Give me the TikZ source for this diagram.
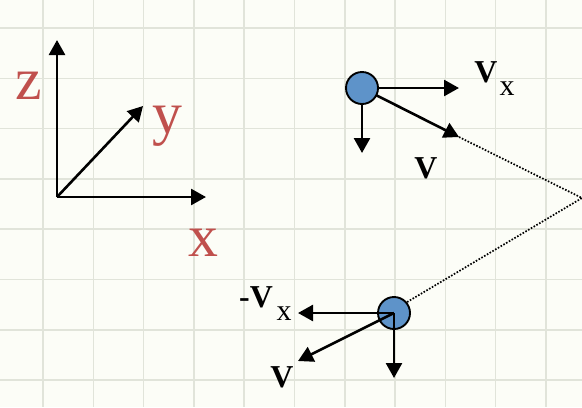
\documentclass[tikz,border=0pt]{standalone}
\usepackage{fontspec}
\setmainfont{Liberation Serif}
\usetikzlibrary{arrows.meta}
\definecolor{bg}{HTML}{FCFDF7}
\definecolor{gridc}{HTML}{E1E4DA}
\definecolor{axred}{HTML}{C0504D}
\definecolor{ballblue}{HTML}{5E93C9}
\tikzset{
  vec/.style={line width=2.6bp,-{Triangle[length=15bp,width=16bp]}},
  ball/.style={circle,draw=black,line width=1.9bp,fill=ballblue,minimum size=32bp,inner sep=0pt},
  axlab/.style={text=axred,font=\fontsize{60}{64}\selectfont,inner sep=0pt,anchor=base},
  vlab/.style={font=\fontsize{32}{34}\selectfont\bfseries,inner sep=0pt,anchor=base},
  sublab/.style={font=\fontsize{30}{32}\selectfont,inner sep=0pt,anchor=base},
  path/.style={line width=1.7bp,dash pattern=on 1.6bp off 1.6bp}
}
\begin{document}
\begin{tikzpicture}[x=1bp,y=-1bp]
\useasboundingbox (0,0) rectangle (582,407);
\fill[bg] (0,0) rectangle (582,407);
\foreach \i in {0,...,10} {\draw[gridc,line width=1.5bp] ({43+50.3*\i},0) -- ({43+50.3*\i},407);}
\foreach \j in {0,...,7} {\draw[gridc,line width=1.5bp] (0,{28+50.3*\j}) -- (582,{28+50.3*\j});}
% axes
\coordinate (O) at (57,197);
\coordinate (Z) at (57,40);
\coordinate (X) at (206,197);
\coordinate (Y) at (143,106);
\draw[vec] (O) -- (Z);
\draw[vec] (O) -- (X);
\draw[vec] (O) -- (Y);
\node[axlab] (zl) at (29,99) {z};
\node[axlab] (yl) at (167,133) {y};
\node[axlab] (xl) at (203,256) {x};
% top ball
\coordinate (A) at (362,88);
\coordinate (Ax) at (459,88);
\coordinate (Ad) at (362,153);
\coordinate (Av) at (459,137);
\coordinate (R) at (582,198);
\draw[vec] (A) -- (Ax);
\draw[vec] (A) -- (Ad);
\draw[vec] (A) -- (Av);
\node[ball] (ba) at (A) {};
% bottom ball
\coordinate (B) at (394,313);
\coordinate (Bx) at (298,313);
\coordinate (Bd) at (394,378);
\coordinate (Bv) at (298,361);
\node[ball] (bb) at (B) {};
\draw[path] (Av) -- (R) -- (bb.40);
\draw[vec] (B) -- (Bx);
\draw[vec] (B) -- (Bd);
\draw[vec] (B) -- (Bv);
% labels
\node[vlab] (vx1) at (486,82) {V};
\node[sublab] (sx1) at (507,95) {x};
\node[vlab] (v1) at (426,178) {V};
\node[vlab] (mvx) at (256,307) {-V};
\node[sublab] (sx2) at (284,320) {x};
\node[vlab] (v2) at (282,387) {V};
\end{tikzpicture}
\end{document}
